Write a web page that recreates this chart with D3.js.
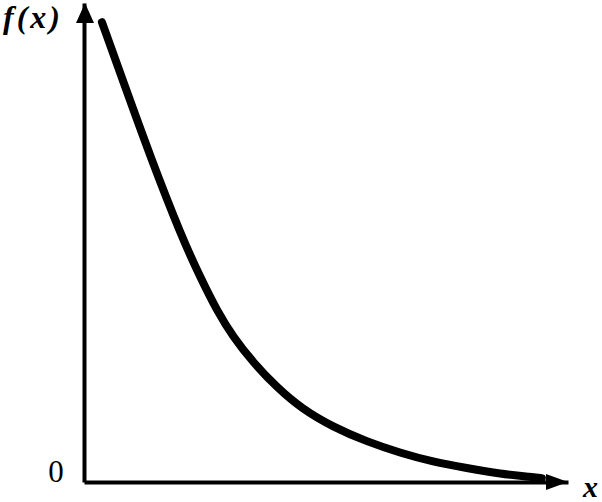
<!DOCTYPE html>
<html>
<head>
<meta charset="utf-8">
<script src="https://cdn.jsdelivr.net/npm/d3@7/dist/d3.min.js"></script>
<style>
  html, body { margin: 0; padding: 0; background: #fff; }
  svg { display: block; }
  .lbl { font-family: "Liberation Serif", "DejaVu Serif", serif; }
</style>
</head>
<body>
<script>
// Curve f(x) (data units: x 0..10, y 0..10)
const curveX = [0.37, 0.85, 1.36, 2.02, 2.40, 2.75, 3.08, 3.49, 3.99, 4.50, 5.14, 5.85, 6.53, 7.21, 7.91, 8.60, 9.28, 9.46];
const curveY = [9.60, 8.25, 6.82, 5.11, 4.28, 3.57, 3.03, 2.50, 1.97, 1.53, 1.15, 0.84, 0.61, 0.42, 0.29, 0.17, 0.10, 0.08];
const xLabel = "x";
const yLabel = "f(x)";
const originLabel = "0";

const W = 602, H = 502;
const svg = d3.select("body").append("svg").attr("width", W).attr("height", H);

const x = d3.scaleLinear().domain([0, 10]).range([84, 568]);
const y = d3.scaleLinear().domain([0, 10]).range([482, 3]);

// axes (no ticks), arrow-headed
const xAxis = d3.axisBottom(x).tickValues([]).tickSizeOuter(0);
const yAxis = d3.axisLeft(y).tickValues([]).tickSizeOuter(0);
const gx = svg.append("g").attr("transform", `translate(0,${y(0)})`).call(xAxis);
const gy = svg.append("g").attr("transform", `translate(${x(0)},0)`).call(yAxis);
[gx, gy].forEach(g => g.select(".domain").attr("stroke", "#000").attr("stroke-width", 4));

// arrowheads
const x0 = x(0), y0 = y(0);
svg.append("polygon")
  .attr("points", [[x(10), y0], [x(10) - 22, y0 - 8], [x(10) - 22, y0 + 8]].map(p => p.join(",")).join(" "))
  .attr("fill", "#000");
svg.append("polygon")
  .attr("points", [[x0 + 1, y(10)], [x0 - 8, y(10) + 20], [x0 + 10, y(10) + 20]].map(p => p.join(",")).join(" "))
  .attr("fill", "#000");

// curve
const pts = curveX.map((d, i) => [d, curveY[i]]);
svg.append("path")
  .datum(pts)
  .attr("d", d3.line().x(d => x(d[0])).y(d => y(d[1])).curve(d3.curveBasis))
  .attr("fill", "none")
  .attr("stroke", "#000")
  .attr("stroke-width", 8)
  .attr("stroke-linecap", "round")
  .attr("stroke-linejoin", "round");

// labels
svg.append("text")
  .attr("class", "lbl")
  .attr("x", 3).attr("y", 28)
  .attr("font-size", 32)
  .attr("font-style", "italic").attr("font-weight", "bold")
  .attr("letter-spacing", 3)
  .text(yLabel);
svg.append("text")
  .attr("class", "lbl")
  .attr("x", 56).attr("y", y0)
  .attr("text-anchor", "middle")
  .attr("font-size", 31)
  .text(originLabel);
svg.append("text")
  .attr("class", "lbl")
  .attr("x", 583).attr("y", 497)
  .attr("font-size", 30)
  .attr("font-style", "italic").attr("font-weight", "bold")
  .text(xLabel);
</script>
</body>
</html>
